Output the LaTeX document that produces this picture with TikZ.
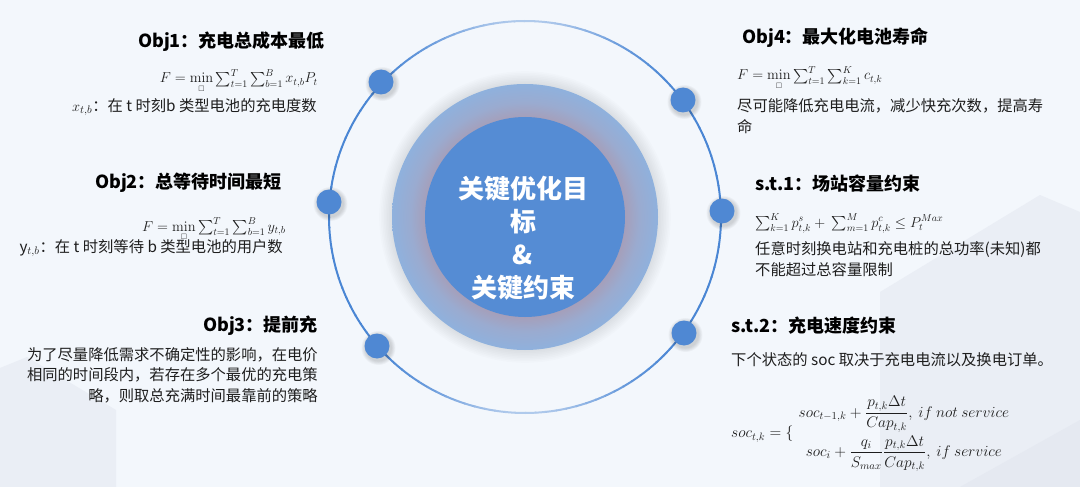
\documentclass[tikz,border=0pt]{standalone}
\usepackage{amsmath,amssymb,graphicx}
\usepackage[no-math]{fontspec}
\setmainfont{Noto Sans CJK SC}
\definecolor{bg}{HTML}{F3F7FC}
\definecolor{bgdark}{HTML}{EAEEF5}
\definecolor{bgdark2}{HTML}{E5E9F1}
\definecolor{ringblue}{HTML}{4A86D4}
\definecolor{dotblue}{HTML}{4F88D3}
\definecolor{inblue}{HTML}{558CD4}
\definecolor{ringinner}{HTML}{A59FBA}
\definecolor{ringmid}{HTML}{9AABD0}
\definecolor{ringouter}{HTML}{8FB1DD}
\definecolor{txt}{HTML}{1E1E1E}
\pgfdeclareradialshading{ringshade}{\pgfpoint{0bp}{0bp}}{color(0bp)=(ringinner); color(18.8bp)=(ringinner); color(21.5bp)=(ringmid); color(25bp)=(ringouter); color(50bp)=(ringouter)}
\begin{document}
\begin{tikzpicture}[x=1pt,y=-1pt,
  title/.style={font=\fontsize{18}{22}\selectfont\bfseries, text=black, inner sep=0pt},
  body/.style={font=\fontsize{15.3}{21.5}\selectfont, text=txt, inner sep=0pt},
  fml/.style={font=\fontsize{14.4}{17}\selectfont, text=txt, inner sep=0pt},
  dot/.style={circle, fill=dotblue, minimum size=25pt, inner sep=0pt}]
\useasboundingbox (0,0) rectangle (1080,487);
\fill[bg] (0,0) rectangle (1080,487);
% subtle background planes
\fill[bgdark] (880,487) -- (880,292) -- (1040,195) -- (1080,212) -- (1080,487) -- cycle;
\fill[bgdark2] (960,487) -- (1080,420) -- (1080,487) -- cycle;
\fill[bgdark] (0,368) -- (27,357) -- (116,410) -- (116,487) -- (0,487) -- cycle;
\coordinate (c) at (525,217);
% halo behind the ring
\foreach \i in {1,...,8}{\fill[black,opacity=0.012] (c) circle ({133+\i*1.6 pt});}
% outer ring with fading top and bottom
\foreach \a in {0,3,...,357}{%
  \pgfmathsetmacro\p{100-60*abs(sin(\a+1.5))^8}%
  \draw[line width=2pt, color=ringblue!\p!bg] (c) ++(\a:196pt) arc[start angle=\a, end angle=\a+3.3, radius=196pt];}
% central discs
\shade[shading=ringshade] (c) circle (133pt);
\fill[inblue] (c) circle (100pt);
\node[align=center, text=white, font=\fontsize{26}{33}\selectfont\bfseries, inner sep=0pt] (centre) at (523,238) {关键优化目\\标\\\&\\关键约束};
% dots with soft shadows
\foreach \n/\x/\y in {d1/381/82, d2/329/202, d3/377/346, d4/683/100, d5/722/211, d6/684/333}{%
  \foreach \i in {1,...,5}{\fill[black,opacity=0.03] (\x+1.5,\y+2) circle ({12.5+\i*0.9 pt});}
  \node[dot] (\n) at (\x,\y) {};}
% Obj1
\node[title, anchor=east] (t1) at (325,42) {Obj1：充电总成本最低};
\node[fml, anchor=base east] (f1) at (318,83) {$F=\underset{\scriptscriptstyle\square}{\mathrm{min}}\sum_{t=1}^{T}\sum_{b=1}^{B}x_{t,b}P_t$};
\node[body, anchor=east] (b1) at (317,107) {$x_{t,b}$：在 t 时刻b 类型电池的充电度数};
% Obj2
\node[title, anchor=east] (t2) at (282,183) {Obj2：总等待时间最短};
\node[fml, anchor=base east] (f2) at (286,231) {$F=\underset{\scriptscriptstyle\square}{\mathrm{min}}\sum_{t=1}^{T}\sum_{b=1}^{B}y_{t,b}$};
\node[body, anchor=east] (b2) at (283,248) {y$_{t,b}$：在 t 时刻等待 b 类型电池的用户数};
% Obj3
\node[title, anchor=east] (t3) at (318,326) {Obj3：提前充};
\node[body, anchor=east, align=right, font=\fontsize{15.3}{20.5}\selectfont] (b3) at (318,375) {为了尽量降低需求不确定性的影响，在电价\\相同的时间段内，若存在多个最优的充电策\\略，则取总充满时间最靠前的策略};
% Obj4
\node[title, anchor=west] (t4) at (742,38) {Obj4：最大化电池寿命};
\node[fml, anchor=base west] (f4) at (737,80) {$F=\underset{\scriptscriptstyle\square}{\mathrm{min}}\sum_{t=1}^{T}\sum_{k=1}^{K}c_{t,k}$};
\node[body, anchor=west, align=left] (b4) at (737,116) {尽可能降低充电电流，减少快充次数，提高寿\\命};
% s.t.1
\node[title, anchor=west] (t5) at (755,184) {s.t.1：场站容量约束};
\node[fml, anchor=base west] (f5) at (755,227) {$\sum_{k=1}^{K}p_{t,k}^{s}+\ \sum_{m=1}^{M}p_{t,k}^{c}\le P_t^{Max}$};
\node[body, anchor=west, align=left] (b5) at (755,259) {任意时刻换电站和充电桩的总功率(未知)都\\不能超过总容量限制};
% s.t.2
\node[title, anchor=west] (t6) at (731,326) {s.t.2：充电速度约束};
\node[body, anchor=west] (b6) at (731,360) {下个状态的 soc 取决于充电电流以及换电订单。};
\node[fml, anchor=west] (f6) at (731,434) {\scalebox{1.07}{$soc_{t,k}=\{\begin{array}{c} soc_{t-1,k}+\dfrac{p_{t,k}\Delta t}{Cap_{t,k}},\ if\ not\ service\\[12pt] soc_i+\dfrac{q_i}{S_{max}}\dfrac{p_{t,k}\Delta t}{Cap_{t,k}},\ if\ service\end{array}$}};
\end{tikzpicture}
\end{document}
